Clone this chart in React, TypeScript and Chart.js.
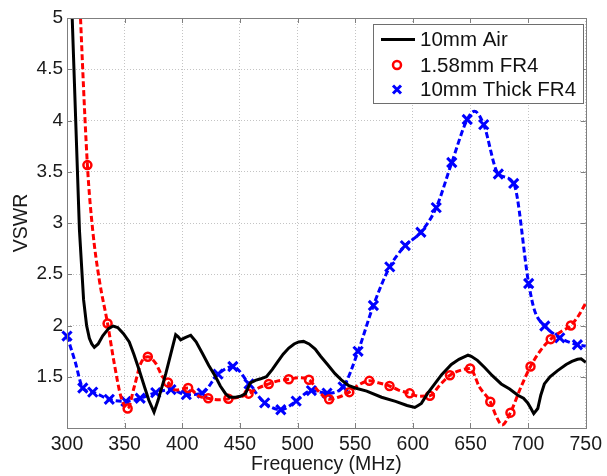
import React, { useEffect, useRef } from 'react';
import { Chart, registerables } from 'chart.js';

Chart.register(...registerables);

const FONT = "'Liberation Sans', Arial, sans-serif";

// Axis ticks
const xTickMin = 300;
const xTickMax = 750;
const xTickStep = 50;
const yTickMin = 1;
const yTickMax = 5;
const yTickStep = 0.5;

// Series labels
const seriesLabels = ['10mm Air', '1.58mm FR4', '10mm Thick FR4'];

// 10mm Air (solid black)
const airFreq = [303, 310.8, 314.4, 317, 319.4, 321.5, 323.7, 327, 331, 336, 340, 344, 349, 354, 358, 362.6, 367, 371, 375.5, 379, 385.7, 390, 394.3, 396.5, 398.6, 402, 407.3, 412, 417.4, 423, 428.9, 433, 437.5, 441, 446.2, 450.5, 454.8, 459, 463.4, 468, 473, 478, 483, 487.5, 492.4, 497, 501, 505.2, 510, 515.3, 520, 526, 532.5, 538, 544.1, 550, 560, 572.9, 585, 595, 601.7, 604.6, 607.4, 613, 619, 625, 633.4, 640, 647.9, 650.7, 656, 662.3, 669, 676.7, 684, 691.1, 696, 699.7, 702.5, 704.9, 708.4, 711, 714.1, 719, 725.6, 733, 738, 742.9, 746, 750];
const airVswr = [5.5, 2.93, 2.25, 2.0, 1.875, 1.82, 1.787, 1.82, 1.9, 1.97, 1.995, 1.98, 1.92, 1.84, 1.72, 1.565, 1.41, 1.27, 1.155, 1.27, 1.53, 1.72, 1.91, 1.89, 1.86, 1.88, 1.905, 1.84, 1.73, 1.61, 1.5, 1.41, 1.335, 1.3, 1.3, 1.31, 1.335, 1.44, 1.465, 1.48, 1.5, 1.57, 1.65, 1.72, 1.78, 1.82, 1.84, 1.845, 1.82, 1.77, 1.7, 1.62, 1.53, 1.47, 1.415, 1.39, 1.36, 1.3, 1.26, 1.22, 1.2, 1.22, 1.24, 1.34, 1.43, 1.52, 1.62, 1.67, 1.71, 1.7, 1.66, 1.59, 1.51, 1.43, 1.38, 1.32, 1.29, 1.245, 1.19, 1.14, 1.19, 1.32, 1.43, 1.5, 1.56, 1.62, 1.65, 1.67, 1.675, 1.64];

// 1.58mm FR4 (red dashed, circle markers where flag = 1)
const fr4Freq = [309, 317.7, 322.3, 328.1, 335.2, 341, 346.8, 352.6, 358.3, 364, 370.1, 377, 382.8, 387.6, 394.3, 405.1, 414.5, 422.5, 431.8, 440, 449.1, 457.5, 466, 475, 483, 492.4, 500.5, 509.9, 518.1, 527.4, 535.4, 544.9, 553, 562.3, 570.4, 579.8, 587.6, 597.3, 605.5, 614.8, 623.5, 632.2, 640.5, 649.7, 657.8, 667.2, 672.5, 677.5, 684.7, 693.8, 702.1, 711, 719.6, 728.5, 737.1, 744, 750];
const fr4Vswr = [5.7, 3.565, 2.93, 2.44, 2.02, 1.63, 1.305, 1.19, 1.4, 1.63, 1.695, 1.63, 1.5, 1.445, 1.37, 1.39, 1.31, 1.29, 1.275, 1.285, 1.3, 1.335, 1.39, 1.43, 1.46, 1.475, 1.49, 1.47, 1.36, 1.28, 1.3, 1.35, 1.42, 1.46, 1.44, 1.41, 1.37, 1.338, 1.31, 1.314, 1.42, 1.515, 1.56, 1.58, 1.4, 1.256, 1.11, 1.03, 1.15, 1.4, 1.6, 1.76, 1.867, 1.94, 2.0, 2.1, 2.22];
const fr4Marker = [0, 1, 0, 0, 1, 0, 0, 1, 0, 0, 1, 0, 0, 1, 0, 1, 0, 1, 0, 1, 0, 1, 0, 1, 0, 1, 0, 1, 0, 1, 0, 1, 0, 1, 0, 1, 0, 1, 0, 1, 0, 1, 0, 1, 0, 1, 0, 0, 1, 0, 1, 0, 1, 0, 1, 0, 0];

// 10mm Thick FR4 (blue dashed, x markers where flag = 1)
const thickFreq = [300, 307, 313.7, 322.3, 336.7, 351.1, 363.5, 377, 390.2, 403.5, 417.2, 431, 443.9, 457.9, 471.5, 485.5, 498.8, 512, 525.6, 539.5, 552.5, 565.8, 580, 593.5, 607, 620.3, 633.8, 647.2, 653.5, 661.5, 674.2, 687.5, 700.5, 705.5, 714.5, 727.5, 742.8, 750];
const thickVswr = [1.897, 1.65, 1.39, 1.35, 1.28, 1.26, 1.29, 1.345, 1.375, 1.325, 1.34, 1.525, 1.6, 1.43, 1.245, 1.178, 1.262, 1.365, 1.34, 1.402, 1.748, 2.195, 2.572, 2.78, 2.91, 3.15, 3.59, 4.01, 4.09, 3.96, 3.478, 3.386, 2.41, 2.15, 1.995, 1.88, 1.812, 1.8];
const thickMarker = [1, 0, 1, 1, 1, 1, 1, 1, 1, 1, 1, 1, 1, 1, 1, 1, 1, 1, 1, 1, 1, 1, 1, 1, 1, 1, 1, 1, 0, 1, 1, 1, 1, 0, 1, 1, 1, 0];

const toPoints = (xs: number[], ys: number[]) => xs.map((x, i) => ({ x, y: ys[i] }));

const framePlugin = {
  id: 'matlabFrame',
  afterDatasetsDraw(chart: any) {
    const { ctx, chartArea } = chart;
    const { left, right, top, bottom } = chartArea;
    ctx.save();
    ctx.strokeStyle = '#7f7f7f';
    ctx.lineWidth = 1;
    ctx.beginPath();
    const xs = chart.scales.x;
    const ys = chart.scales.y;
    const tl = 5;
    xs.ticks.forEach((t: any) => {
      const px = Math.round(xs.getPixelForValue(t.value)) + 0.5;
      ctx.moveTo(px, bottom);
      ctx.lineTo(px, bottom - tl);
      ctx.moveTo(px, top);
      ctx.lineTo(px, top + tl);
    });
    ys.ticks.forEach((t: any) => {
      const py = Math.round(ys.getPixelForValue(t.value)) + 0.5;
      ctx.moveTo(left, py);
      ctx.lineTo(left + tl, py);
      ctx.moveTo(right, py);
      ctx.lineTo(right - tl, py);
    });
    ctx.stroke();
    ctx.strokeRect(Math.round(left) + 0.5, Math.round(top) + 0.5, Math.round(right - left), Math.round(bottom - top));
    ctx.restore();
  },
  afterDraw(chart: any) {
    const { ctx } = chart;
    const ds = chart.data.datasets;
    ctx.save();
    const bx = 373.5, by = 24.5, bw = 210, bh = 79;
    ctx.fillStyle = '#ffffff';
    ctx.fillRect(bx, by, bw, bh);
    ctx.strokeStyle = '#6e6e6e';
    ctx.lineWidth = 1;
    ctx.strokeRect(bx, by, bw, bh);
    const rows = [39.5, 65, 89.5];
    const textX = 420;
    // Black line sample
    ctx.strokeStyle = ds[0].borderColor;
    ctx.lineWidth = 3;
    ctx.beginPath();
    ctx.moveTo(381, rows[0]);
    ctx.lineTo(415, rows[0]);
    ctx.stroke();
    // Red circle marker
    ctx.strokeStyle = ds[1].borderColor;
    ctx.lineWidth = 2.5;
    ctx.beginPath();
    ctx.arc(397, rows[1], 4, 0, Math.PI * 2);
    ctx.stroke();
    // Blue x marker
    ctx.strokeStyle = ds[2].borderColor;
    ctx.lineWidth = 3;
    const r = 4;
    ctx.beginPath();
    ctx.moveTo(397 - r, rows[2] - r);
    ctx.lineTo(397 + r, rows[2] + r);
    ctx.moveTo(397 - r, rows[2] + r);
    ctx.lineTo(397 + r, rows[2] - r);
    ctx.stroke();
    ctx.fillStyle = '#111111';
    ctx.font = `20.5px ${FONT}`;
    ctx.textBaseline = 'middle';
    ctx.textAlign = 'left';
    ds.forEach((d: any, i: number) => ctx.fillText(d.label, textX, rows[i] + 1));
    ctx.restore();
  },
};

export default function App() {
  const ref = useRef<HTMLCanvasElement>(null);
  useEffect(() => {
    document.body.style.margin = '0';
    const canvas = ref.current;
    if (!canvas) return;
    const clip = { left: 10, top: 0, right: 10, bottom: 10 };
    const chart = new Chart(canvas, {
      type: 'line',
      data: {
        datasets: [
          {
            label: seriesLabels[0],
            data: toPoints(airFreq, airVswr),
            borderColor: '#000000',
            borderWidth: 3,
            pointRadius: 0,
            tension: 0,
            clip,
          } as any,
          {
            label: seriesLabels[1],
            data: toPoints(fr4Freq, fr4Vswr),
            borderColor: '#ff0000',
            borderWidth: 3,
            borderDash: [6, 3],
            cubicInterpolationMode: 'monotone',
            pointStyle: 'circle',
            pointRadius: (c: any) => (fr4Marker[c.dataIndex] ? 4 : 0),
            pointBorderWidth: 2.5,
            pointBorderColor: '#ff0000',
            pointBackgroundColor: 'rgba(0,0,0,0)',
            clip,
          } as any,
          {
            label: seriesLabels[2],
            data: toPoints(thickFreq, thickVswr),
            borderColor: '#0000ff',
            borderWidth: 3,
            borderDash: [6, 3],
            cubicInterpolationMode: 'monotone',
            pointStyle: 'crossRot',
            pointRadius: (c: any) => (thickMarker[c.dataIndex] ? 6.5 : 0),
            pointBorderWidth: 3,
            pointBorderColor: '#0000ff',
            pointBackgroundColor: '#0000ff',
            clip,
          } as any,
        ],
      },
      options: {
        responsive: false,
        animation: false,
        events: [],
        layout: { padding: { top: 18, right: 19, left: 0, bottom: 0 } },
        plugins: { legend: { display: false }, tooltip: { enabled: false } },
        scales: {
          x: {
            type: 'linear',
            min: xTickMin,
            max: xTickMax,
            afterFit: (s: any) => { s.height = 48; },
            ticks: {
              stepSize: xTickStep,
              autoSkip: false,
              maxRotation: 0,
              padding: 5,
              color: '#1a1a1a',
              font: { family: FONT, size: 19.5 },
            },
            grid: { color: '#c4c4c4', lineWidth: 1, drawTicks: false },
            border: { display: false, dash: [1, 2] },
            title: {
              display: true,
              text: 'Frequency (MHz)',
              color: '#1a1a1a',
              font: { family: FONT, size: 19.5 },
              padding: { top: 0, bottom: 0 },
            },
          },
          y: {
            type: 'linear',
            min: yTickMin,
            max: yTickMax,
            afterFit: (s: any) => { s.width = 67; },
            ticks: {
              stepSize: yTickStep,
              padding: 4,
              color: '#1a1a1a',
              font: { family: FONT, size: 19 },
              callback: (v: any) => (v === yTickMin ? '' : String(v)),
            },
            grid: { color: '#c4c4c4', lineWidth: 1, drawTicks: false },
            border: { display: false, dash: [1, 2] },
            title: {
              display: true,
              text: 'VSWR',
              color: '#1a1a1a',
              font: { family: FONT, size: 19.5 },
              padding: { top: 10, bottom: 0 },
            },
          },
        },
      },
      plugins: [framePlugin],
    } as any);
    return () => chart.destroy();
  }, []);
  return (
    <div style={{ width: 607, height: 476 }}>
      <canvas ref={ref} width={607} height={476} style={{ display: 'block', width: 607, height: 476 }} />
    </div>
  );
}
